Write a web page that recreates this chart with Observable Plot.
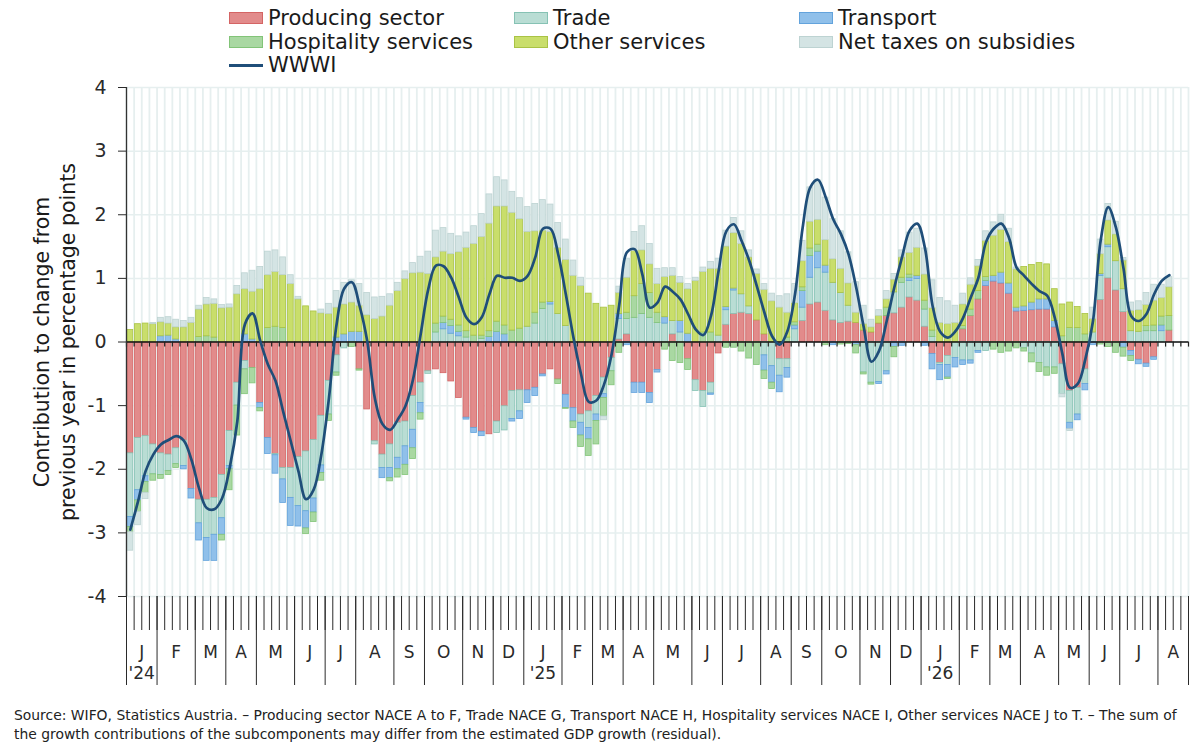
<!DOCTYPE html>
<html><head><meta charset="utf-8">
<script src="https://cdn.jsdelivr.net/npm/d3@7"></script>
<script src="https://cdn.jsdelivr.net/npm/@observablehq/plot@0.6"></script>
<style>
body{margin:0;background:#fff;font-family:"DejaVu Sans",sans-serif;color:#1a1a1a}
#wrap{width:1200px;height:746px;position:relative;overflow:hidden}
#legend{position:relative;height:77px}
.item{position:absolute;display:flex;align-items:center;height:24px;font-size:21px;white-space:nowrap}
.sw{width:34px;height:12px;margin-right:5px;box-sizing:border-box;border:1.5px solid}
.ln{width:34px;height:3px;margin-right:5px}
#chart svg{display:block}
#footer{font-size:13.9px;line-height:19px;padding:16px 0 0 14px;color:#222;white-space:nowrap}
</style></head><body>
<div id="wrap"><div id="legend"></div><div id="chart"></div><div id="footer"></div></div>
<script>
// ---- data (weekly, ISO weeks Jan 2024 – Aug 2026) ----
const seriesNames = ["Producing sector","Trade","Transport","Hospitality services","Other services","Net taxes on subsidies"];
const lineName = "WWWI";
const fills   = ["#e28b8b","#b9ddd4","#90c0ea","#a9d8a2","#c9de6b","#d4e4e4"];
const strokes = ["#d46464","#86c2b4","#63a3dc","#82c478","#a9c345","#bdd3d2"];
const lineColor = "#1f4e79";

const monthLabels = ["J","F","M","A","M","J","J","A","S","O","N","D","J","F","M","A","M","J","J","A","S","O","N","D","J","F","M","A","M","J","J","A"];
const monthWeeks  = [4,5,4,4,5,4,4,5,4,5,4,4, 5,4,4,4,5,4,5,4,4,5,4,4, 5,4,4,5,4,4,5,4];
const yearLabels  = ["'24","'25","'26"];
const yearMonthIndex = [0,12,24];
const yTicks = [-4,-3,-2,-1,0,1,2,3,4];

const producing = [
-1.75,-1.51,-1.48,-1.61,-1.75,-1.77,-1.67,-1.55,-2.31,-2.48,
-2.48,-2.45,-2.09,-1.40,-0.64,-0.30,-0.41,-0.96,-1.51,-1.76,
-1.98,-1.98,-1.81,-1.72,-1.54,-1.16,-0.61,-0.21,0,0,
-0.43,-1.06,-1.56,-1.77,-1.61,-1.27,-1.25,-0.85,-0.64,-0.46,
-0.43,-0.49,-0.62,-0.88,-1.19,-1.35,-1.41,-1.45,-1.25,-1.01,
-0.77,-0.76,-0.76,-0.72,-0.51,-0.43,-0.59,-0.83,-1.04,-1.14,
-1.09,-0.85,-0.56,-0.25,0.04,0.12,-0.64,-0.64,-0.80,-0.44,
0,0.12,0,-0.27,-0.60,-0.77,-0.64,-0.18,0.27,0.44,
0.46,0.44,0.34,0.12,0,-0.27,-0.27,0,0.33,0.59,
0.62,0.49,0.34,0.30,0.32,0.30,0.18,0.15,0.29,0.41,
0.45,0.54,0.70,0.65,0.24,-0.19,-0.33,-0.22,0,0.20,
0.41,0.67,0.88,0.95,0.92,0.76,0.48,0.49,0.50,0.51,
0.51,0.23,-0.35,-0.77,-0.72,-0.43,0,0.66,1.00,0.81,
0.47,-0.14,-0.28,-0.34,-0.24,0,0.18];
const trade = [
-1.00,-0.82,-0.63,-0.47,-0.34,-0.26,-0.25,-0.40,0,-0.37,
-0.60,-0.58,-0.68,-0.55,-0.36,-0.13,0,0,0,-0.02,
-0.18,-0.47,-0.77,-0.94,-0.92,-0.78,-0.53,-0.27,-0.10,0,
0,0,-0.05,-0.21,-0.37,-0.55,-0.39,-0.53,-0.32,-0.04,
0.15,0.20,0.13,0.09,0.07,0,0.05,0,-0.18,-0.38,
-0.44,-0.33,0.24,0.29,0.52,0.59,0.44,0.25,0,-0.13,
-0.26,-0.29,-0.26,-0.21,0.32,0.24,0.38,0.44,0.38,0.30,
0.29,0.21,0.15,0,-0.17,-0.25,-0.17,0.10,0.23,0.37,
0.29,0.12,0,-0.21,-0.38,-0.26,-0.14,0.20,0.21,0.42,
0.54,0.60,0.59,0.47,0.25,0,-0.48,-0.64,-0.63,-0.46,
0.33,0.39,0.26,0.34,0.27,0.08,-0.03,-0.14,-0.25,-0.29,
-0.29,-0.14,-0.14,0,0,0,0,-0.10,-0.18,-0.33,
-0.40,-0.40,-0.47,-0.50,-0.42,-0.23,0.15,0.38,0.49,0.46,
0.36,0.17,0.16,0.17,0.17,0.17,0];
const transport = [
-0.16,-0.16,-0.09,0,0.09,0.10,0.04,-0.05,-0.15,-0.27,
-0.36,-0.41,-0.26,-0.05,0,0.12,0.04,-0.08,-0.25,-0.29,
-0.37,-0.44,-0.32,-0.27,-0.22,-0.12,0,0.07,0.12,0.16,
0.16,0,0,-0.16,-0.16,-0.18,-0.29,-0.29,-0.16,0,
0,0.10,0.12,0.07,-0.03,-0.08,-0.07,0.08,0.16,0.12,
-0.04,-0.12,-0.20,-0.13,-0.03,0.04,0,-0.21,-0.21,-0.20,
-0.18,-0.10,-0.06,0,0.08,-0.05,-0.16,-0.16,-0.16,-0.04,
0.10,0,0.18,0.13,0,0,-0.02,0,0.05,0.03,
0,0,0,-0.24,-0.26,-0.26,-0.15,0.06,0.26,0.34,
0.26,0.11,-0.05,0,0,-0.05,0,0,-0.03,-0.05,
-0.08,-0.06,0.05,0.05,-0.06,-0.24,-0.24,-0.20,-0.15,-0.07,
-0.05,-0.03,0.08,0.09,0.17,0.16,0.06,0.07,0.12,0.16,
0.16,0.10,0,-0.10,-0.09,-0.10,-0.05,0.03,0.04,0,
-0.09,-0.08,-0.07,-0.05,-0.04,0.09,0];
const hospitality = [
-0.08,-0.18,-0.17,-0.10,-0.06,-0.06,-0.06,0,0,0.08,
0.09,0.07,-0.09,-0.33,-0.47,-0.39,-0.24,-0.05,0.22,0.24,
0.22,0,0,-0.09,-0.15,-0.12,-0.10,-0.05,0,-0.08,
-0.02,0,0,0,-0.05,-0.13,-0.16,-0.17,-0.10,0,
0.14,0.10,0.10,0.10,0.10,0.10,0.05,0.09,0.16,0.14,
0.18,0.21,0,0.17,0.10,0,-0.07,-0.01,-0.10,-0.18,
-0.26,-0.37,-0.29,-0.22,-0.17,0.10,0.34,0.47,0.39,0.16,
-0.12,-0.30,-0.33,-0.17,0,0.15,0.15,0,-0.09,-0.09,
-0.15,-0.26,-0.36,-0.13,-0.10,0,0.07,0.05,0.06,0.12,
0.11,-0.05,0,-0.04,-0.03,-0.13,-0.03,-0.03,0,0.13,
-0.16,0.08,0.05,0,0.14,0.10,0,-0.02,0,0.05,
0.10,0.13,0.06,-0.12,-0.17,-0.15,-0.10,-0.05,-0.14,-0.14,
-0.13,-0.10,0.09,0.22,0.22,0.12,0,-0.04,-0.08,-0.17,
-0.14,-0.08,0,0.08,0.09,0.14,0.23];
const otherServices = [
0.19,0.28,0.29,0.28,0.22,0.19,0.19,0.23,0.30,0.43,
0.50,0.53,0.53,0.54,0.75,0.71,0.75,0.83,0.83,0.86,
0.83,0.91,0.67,0.56,0.48,0.45,0.44,0.47,0.47,0.46,
0.41,0.42,0.36,0.40,0.57,0.80,0.99,1.08,1.09,1.07,
1.04,1.02,1.03,1.15,1.31,1.44,1.55,1.69,1.81,1.87,
1.85,1.72,1.49,1.28,1.13,1.10,1.04,1.04,1.04,0.88,
0.76,0.60,0.54,0.57,0.33,0.55,0.71,0.53,0.45,0.45,
0.63,0.71,0.60,0.70,0.96,0.95,1.00,1.05,0.95,0.87,
0.79,0.77,0.73,0.70,0.64,0.54,0.39,0.30,0.41,0.42,
0.39,0.40,0.37,0.38,0.35,0.16,0.10,0.08,0.12,0.13,
0.20,0.32,0.34,0.44,0.41,0.35,0.30,0.28,0.30,0.34,
0.39,0.39,0.57,0.63,0.67,0.65,0.60,0.62,0.59,0.57,
0.55,0.50,0.50,0.40,0.33,0.32,0.21,0.31,0.38,0.42,
0.45,0.32,0.34,0.33,0.39,0.29,0.45];
const netTaxes = [
-0.29,-0.21,-0.10,0.02,0.07,0.10,0.12,0.10,0.08,0.06,
0.10,0.07,0.05,0.05,0.13,0.25,0.33,0.35,0.37,0.34,
0.28,0.14,0.04,0,0,0.06,0.16,0.26,0.34,0.35,
0.34,0.35,0.34,0.31,0.18,0.13,0.12,0.16,0.25,0.35,
0.42,0.37,0.32,0.25,0.24,0.28,0.36,0.46,0.46,0.41,
0.33,0.33,0.39,0.43,0.48,0.43,0.39,0.32,0.24,0.13,
0,0,-0.06,0,0.10,0.30,0.30,0.38,0.32,0.24,
0.14,0.12,0.09,0.08,0.05,0.07,0.11,0.16,0.25,0.24,
0.20,0.11,0.07,0.09,0.12,0.18,0.29,0.30,0.32,0.54,
0.62,0.67,0.63,0.59,0.49,0.48,0.29,0.12,0.09,0.13,
0.09,0.11,0.32,0.30,0.41,0.44,0.39,0.36,0.27,0.17,
0.10,0.10,0.15,0.21,0.24,0.21,0.03,0,0,0,
0,0,-0.05,-0.03,0,0,0.18,0.23,0.26,0.20,
0.04,0.13,0.14,0.19,0.25,0.21,0.16];
const wwwi = [
-2.95,-2.51,-2.03,-1.77,-1.61,-1.54,-1.48,-1.55,-1.85,-2.30,
-2.61,-2.63,-2.46,-1.98,-1.25,0.28,0.45,0.02,-0.35,-0.61,
-1.09,-1.56,-2.03,-2.47,-2.32,-1.77,-0.88,0.28,0.84,0.94,
0.57,0.02,-0.88,-1.29,-1.38,-1.22,-1.01,-0.59,0.12,0.83,
1.20,1.19,1.01,0.70,0.38,0.28,0.39,0.75,1.04,1.01,
1.01,0.96,1.04,1.33,1.78,1.78,1.38,0.75,0.07,-0.51,
-0.94,-0.92,-0.67,-0.19,0.59,1.41,1.46,1.07,0.54,0.62,
0.87,0.79,0.67,0.44,0.20,0.11,0.41,1.12,1.74,1.85,
1.59,1.28,0.88,0.46,0.09,-0.04,0.17,0.75,1.80,2.43,
2.55,2.28,1.93,1.70,1.38,0.86,0.23,-0.31,-0.14,0.33,
0.86,1.33,1.75,1.86,1.48,0.57,0.16,0.07,0.17,0.38,
0.70,1.01,1.57,1.78,1.86,1.64,1.17,1.04,0.91,0.80,
0.73,0.38,-0.19,-0.72,-0.66,-0.27,0.33,1.59,2.12,1.80,
1.15,0.41,0.33,0.44,0.75,0.96,1.05];

const yTitle = "Contribution to change from\nprevious year in percentage points";
const footerLines = [
"Source: WIFO, Statistics Austria. – Producing sector NACE A to F, Trade NACE G, Transport NACE H, Hospitality services NACE I, Other services NACE J to T. – The sum of",
"the growth contributions of the subcomponents may differ from the estimated GDP growth (residual)."
];

// ---- derived tables ----
const seriesValues = [producing, trade, transport, hospitality, otherServices, netTaxes];
const nWeeks = d3.sum(monthWeeks);
const boundaries = d3.range(nWeeks + 1);
const monthStarts = [0, ...Array.from(d3.cumsum(monthWeeks))];
const months = monthLabels.map((m, k) => ({label: m, c: (monthStarts[k] + monthStarts[k + 1]) / 2}));
const years = yearLabels.map((y, k) => ({label: y, c: months[yearMonthIndex[k]].c}));

const rows = [];
for (let i = 0; i < producing.length; i++) {
  seriesValues.forEach((arr, s) => { if (arr[i] !== 0) rows.push({i, s, v: arr[i]}); });
}
const linePts = wwwi.map((v, i) => ({i, v}));

// ---- legend ----
const legend = document.getElementById("legend");
const legendPos = [[229,6],[514,6],[799,6],[229,30],[514,30],[799,30]];
seriesNames.forEach((name, s) => {
  const d = document.createElement("div");
  d.className = "item";
  d.style.left = legendPos[s][0] + "px"; d.style.top = legendPos[s][1] + "px";
  d.innerHTML = `<span class="sw" style="background:${fills[s]};border-color:${strokes[s]}"></span><span>${name}</span>`;
  legend.appendChild(d);
});
{
  const d = document.createElement("div");
  d.className = "item"; d.style.left = "229px"; d.style.top = "53px";
  d.innerHTML = `<span class="ln" style="background:${lineColor}"></span><span>${lineName}</span>`;
  legend.appendChild(d);
}

// ---- chart ----
const chart = Plot.plot({
  width: 1200, height: 613,
  marginLeft: 126, marginRight: 12, marginTop: 10, marginBottom: 94,
  x: {domain: [0, nWeeks]},
  y: {domain: [-4, 4]},
  color: {type: "identity"},
  style: {fontFamily: "DejaVu Sans, sans-serif", color: "#2a2a2a", background: "#fff", overflow: "visible"},
  marks: [
    Plot.ruleX(boundaries, {x: d => d, stroke: "#e6efef", strokeWidth: 1.8}),
    Plot.ruleY(yTicks, {y: d => d, stroke: "#e6efef", strokeWidth: 1.5}),
    Plot.rectY(rows, {x1: "i", x2: d => d.i + 1, y: "v",
      fill: d => fills[d.s], stroke: d => strokes[d.s], strokeWidth: 0.8,
      insetLeft: 0.9, insetRight: 0.9}),
    Plot.ruleY([0], {stroke: "#111", strokeWidth: 1.5}),
    Plot.ruleX(boundaries, {x: d => d, y1: 0, y2: -0.08, stroke: "#222", strokeWidth: 1.2}),
    Plot.ruleX([0], {stroke: "#333", strokeWidth: 1.3}),
    Plot.line(linePts, {x: d => d.i + 0.5, y: "v", stroke: lineColor, strokeWidth: 2.7, curve: "catmull-rom"}),
    Plot.axisY({ticks: yTicks, tickSize: 8, tickPadding: 12, fontSize: 19, tickFormat: d => String(d), label: null}),
    Plot.axisX({ticks: boundaries, tickSize: 34, tickFormat: () => "", label: null, strokeWidth: 1}),
    Plot.axisX({ticks: monthStarts, tickSize: 89, tickFormat: () => "", label: null, strokeWidth: 1}),
    Plot.text(months, {x: "c", y: -4, dy: 56, text: "label", fontSize: 17, fill: "#2a2a2a"}),
    Plot.text(years, {x: "c", y: -4, dy: 77, text: "label", fontSize: 17, fill: "#2a2a2a"}),
    Plot.text([yTitle], {frameAnchor: "left", dx: -73, rotate: -90, text: d => d, fontSize: 20.5,
      textAnchor: "middle", lineAnchor: "middle", lineHeight: 1.28, fill: "#1a1a1a"})
  ]
});
document.getElementById("chart").appendChild(chart);

document.getElementById("footer").innerHTML = footerLines.map(l => `<div>${l}</div>`).join("");
</script>
</body></html>
